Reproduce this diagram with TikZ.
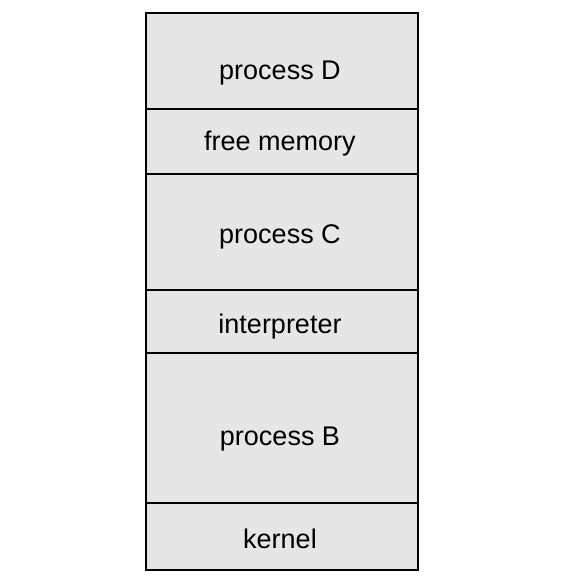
\documentclass[tikz,border=0pt]{standalone}
\usepackage{fontspec}
\setmainfont{Liberation Sans}
\definecolor{cellgray}{RGB}{230,230,230}
\begin{document}
\begin{tikzpicture}[x=1pt,y=-1pt,
  cell/.style={draw=black,fill=cellgray,line width=1.6pt},
  lbl/.style={anchor=base,font=\fontsize{27}{31}\selectfont,inner sep=0pt}]
\useasboundingbox (0,0) rectangle (578,583);
\draw[cell] (146,13) rectangle (418,109);
\draw[cell] (146,109) rectangle (418,174);
\draw[cell] (146,174) rectangle (418,290);
\draw[cell] (146,290) rectangle (418,353);
\draw[cell] (146,353) rectangle (418,503);
\draw[cell] (146,503) rectangle (418,570);
\node[lbl] (d) at (280,80) {process D};
\node[lbl] (f) at (280,150) {free memory};
\node[lbl] (c) at (280,243) {process C};
\node[lbl] (i) at (280,333) {interpreter};
\node[lbl] (b) at (280,445) {process B};
\node[lbl] (k) at (280,548) {kernel};
\end{tikzpicture}
\end{document}
